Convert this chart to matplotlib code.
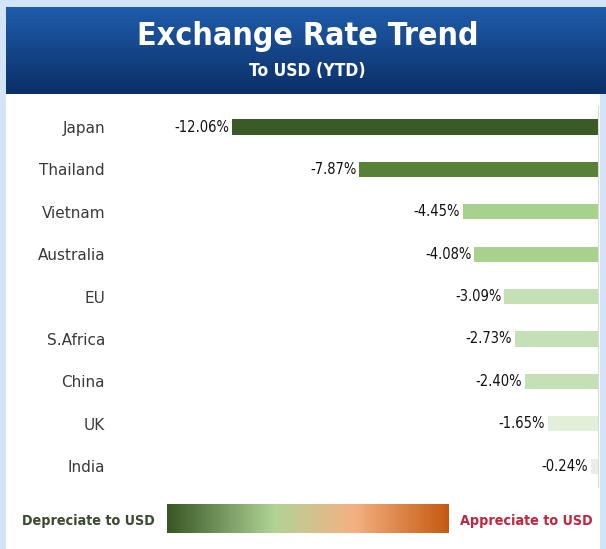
import matplotlib.pyplot as plt
import numpy as np
from matplotlib.colors import LinearSegmentedColormap
from matplotlib.patches import Rectangle

countries = ["Japan", "Thailand", "Vietnam", "Australia", "EU",
             "S.Africa", "China", "UK", "India"]
change_pct = [-12.06, -7.87, -4.45, -4.08, -3.09, -2.73, -2.40, -1.65, -0.24]
bar_colors = ["#3a5a26", "#568136", "#a9d18e", "#a9d18e", "#c5e0b4",
              "#c5e0b4", "#c5e0b4", "#e2efd9", "#ececec"]

title = "Exchange Rate Trend"
subtitle = "To USD (YTD)"
legend_left = "Depreciate to USD"
legend_right = "Appreciate to USD"

W, H = 606, 549
narrow = ["Liberation Sans Narrow", "DejaVu Sans"]


def box(x0, y0, x1, y1):
    # pixel box (top-left origin) -> figure fraction rect
    return [x0 / W, 1 - y1 / H, (x1 - x0) / W, (y1 - y0) / H]


fig = plt.figure(figsize=(W / 100, H / 100), dpi=100)
fig.patch.set_facecolor("#d3e4f7")

# white panel, as an axes behind everything
panel = fig.add_axes(box(6, 7, 600, 549), zorder=-5)
panel.set_axis_off()
panel.add_patch(Rectangle((0, 0), 1, 1, transform=panel.transAxes,
                          facecolor="white", edgecolor="none"))

# header with vertical gradient
hdr = fig.add_axes(box(6, 7, 606, 94))
hdr_cmap = LinearSegmentedColormap.from_list("hdr", ["#1f5cab", "#0b2f68"])
hdr.imshow(np.linspace(0, 1, 100).reshape(-1, 1), cmap=hdr_cmap,
           aspect="auto", extent=(0, 1, 0, 1))
hdr.set_axis_off()
hdr.text(0.503, 0.66, title, color="white", fontsize=23, fontweight="bold",
         family=narrow, fontstretch="condensed", ha="center", va="center")
hdr.text(0.503, 0.27, subtitle, color="white", fontsize=12.5, fontweight="bold",
         family=narrow, fontstretch="condensed", ha="center", va="center")

# bars
ax = fig.add_axes(box(130, 105.8, 598, 487.4))
y = np.arange(len(countries))
ax.barh(y, change_pct, height=0.36, color=bar_colors)
ax.set_xlim(-15.42, 0)
ax.set_ylim(len(countries) - 0.5, -0.5)
ax.set_yticks(y)
ax.set_yticklabels(countries, fontsize=11, color="#3a3a3a")
ax.tick_params(axis="y", length=0, pad=18)
ax.set_xticks([])
for s in ["top", "left", "bottom"]:
    ax.spines[s].set_visible(False)
ax.spines["right"].set_color("#d9d9d9")
ax.set_facecolor("none")
for yi, v in zip(y, change_pct):
    ax.annotate(f"{v:.2f}%", (v, yi), xytext=(-2, 0),
                textcoords="offset points", ha="right", va="center",
                fontsize=10.5, family=narrow, fontstretch="condensed",
                color="#111111")

# legend gradient
leg = fig.add_axes(box(167, 504, 448, 533))
leg_cmap = LinearSegmentedColormap.from_list(
    "leg", [(0, "#375623"), (0.38, "#b0d496"), (0.66, "#f4b183"), (1, "#c55a11")])
leg.imshow(np.linspace(0, 1, 256).reshape(1, -1), cmap=leg_cmap,
           aspect="auto", extent=(0, 1, 0, 1))
leg.set_axis_off()
fig.text(22 / W, 1 - 521 / H, legend_left, fontsize=10.3, fontweight="bold",
         family=narrow, fontstretch="condensed", color="#3b4a30",
         ha="left", va="center")
fig.text(593 / W, 1 - 521 / H, legend_right, fontsize=10.3, fontweight="bold",
         family=narrow, fontstretch="condensed", color="#c0263c",
         ha="right", va="center")

fig.savefig("out.png", dpi=100, facecolor=fig.get_facecolor())
